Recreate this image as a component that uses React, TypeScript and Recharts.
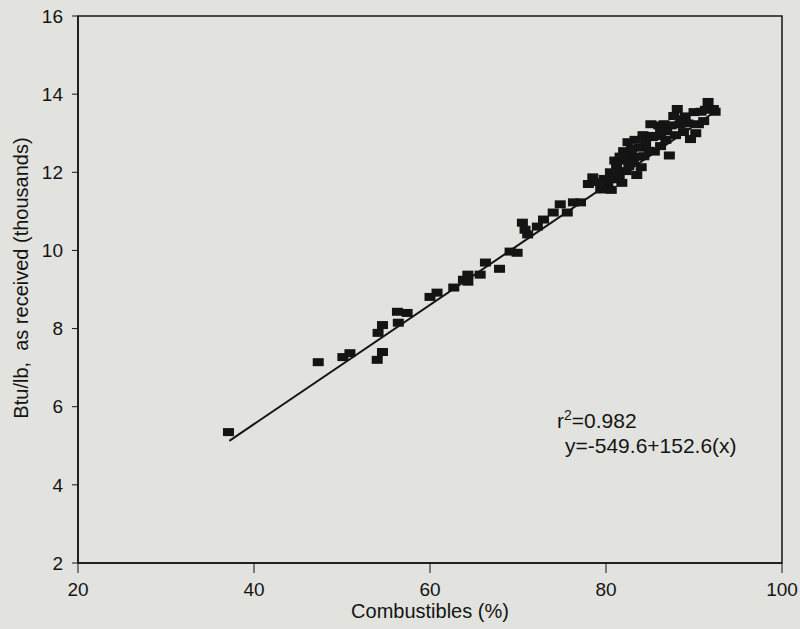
import { ScatterChart, Scatter, XAxis, YAxis, ReferenceLine, ReferenceArea } from 'recharts';

// combustibles (%) and heating value (thousand Btu/lb, as received)
const combustibles = [
  37.1, 47.3, 50.1, 50.9, 54.0, 54.6, 54.1, 54.6, 56.4, 56.3, 57.4, 60.0, 60.8, 62.7, 63.8,
  64.3, 64.3, 65.7, 66.3, 67.9, 69.1, 69.9, 70.5, 70.8, 71.1, 72.2, 72.9, 74.0, 74.8, 75.6,
  76.3, 77.1, 78.5, 79.4, 80.2, 80.9, 81.5, 82.0, 82.5, 82.3, 83.1, 83.5, 84.3, 84.0, 84.7,
  85.1, 85.5, 86.2, 86.2, 86.8, 87.2, 87.7, 88.1, 88.8, 89.6, 90.0, 90.5, 91.1, 91.6, 92.2,
  81.2, 82.8, 83.8, 85.8, 81.8, 79.8, 83.3, 86.6, 88.4, 89.0,
  78.0, 79.0, 80.5, 81.0, 81.6, 82.2, 82.9, 83.6, 84.5, 84.9, 85.3, 86.0, 86.9, 87.4, 87.9,
  88.6, 89.3, 90.2, 90.8, 91.3, 92.4, 80.6, 82.6, 84.2,
];
const btu = [
  5.35, 7.14, 7.27, 7.37, 7.2, 7.4, 7.89, 8.09, 8.15, 8.43, 8.4, 8.81, 8.92, 9.05, 9.25,
  9.2, 9.38, 9.38, 9.69, 9.53, 9.97, 9.94, 10.71, 10.53, 10.41, 10.61, 10.79, 10.97, 11.18, 10.97,
  11.23, 11.23, 11.87, 11.56, 11.68, 11.82, 11.93, 12.54, 12.77, 12.03, 12.26, 11.93, 12.41, 12.13, 12.93,
  13.23, 12.53, 12.67, 13.03, 12.83, 12.43, 13.44, 13.62, 13.03, 12.85, 13.54, 13.23, 13.31, 13.8, 13.62,
  12.13, 12.43, 12.63, 12.93, 11.73, 11.83, 12.83, 13.23, 13.23, 13.43,
  11.7, 11.75, 12.0, 12.3, 12.4, 12.3, 12.6, 12.4, 12.75, 12.55, 12.9, 13.2, 13.05, 13.2, 12.95,
  13.35, 13.25, 13.0, 13.55, 13.6, 13.55, 11.55, 12.15, 12.95,
];

const xTicks = [20, 40, 60, 80, 100];
const yTicks = [2, 4, 6, 8, 10, 12, 14, 16];

// fit reported on the chart (Btu/lb)
const intercept = -549.6;
const slope = 152.6;
const fitRange = [37.2, 92.3];

const points = combustibles.map((x, i) => ({ x, y: btu[i] }));
const fit = (x: number) => (intercept + slope * x) / 1000;

const ink = '#141414';
const font = '"Liberation Sans", Arial, Helvetica, sans-serif';

function Marker(props: { cx?: number; cy?: number }) {
  const { cx = 0, cy = 0 } = props;
  return <rect x={cx - 5.5} y={cy - 4} width={11} height={8} fill={ink} />;
}

export default function App() {
  return (
    <div
      style={{
        position: 'absolute',
        left: 0,
        top: 0,
        width: 800,
        height: 629,
        background: '#e2e3de',
        fontFamily: font,
        color: ink,
      }}
    >
      <ScatterChart
        width={800}
        height={629}
        margin={{ top: 16, right: 18, left: 0, bottom: 0 }}
        style={{ fontFamily: font }}
      >
        <XAxis
          type="number"
          dataKey="x"
          domain={[20, 100]}
          ticks={xTicks}
          height={66}
          tickSize={10}
          tickMargin={10}
          tick={{ fontSize: 19, fill: ink }}
          axisLine={{ stroke: ink, strokeWidth: 1.5 }}
          tickLine={{ stroke: ink }}
        />
        <YAxis
          type="number"
          dataKey="y"
          domain={[2, 16]}
          ticks={yTicks}
          width={78}
          tickSize={6}
          tickMargin={9}
          tick={{ fontSize: 19, fill: ink }}
          axisLine={{ stroke: ink, strokeWidth: 1.5 }}
          tickLine={{ stroke: ink }}
        />
        <ReferenceArea x1={20} x2={100} y1={2} y2={16} fill="none" stroke={ink} strokeWidth={1.5} />
        <ReferenceLine
          segment={[
            { x: fitRange[0], y: fit(fitRange[0]) },
            { x: fitRange[1], y: fit(fitRange[1]) },
          ]}
          stroke={ink}
          strokeWidth={2}
        />
        <Scatter data={points} shape={<Marker />} isAnimationActive={false} />
      </ScatterChart>

      <div
        style={{
          position: 'absolute',
          left: -139,
          top: 266,
          width: 320,
          height: 24,
          lineHeight: '24px',
          fontSize: 20,
          textAlign: 'center',
          whiteSpace: 'pre',
          transform: 'rotate(-90deg)',
        }}
      >
        {'Btu/lb,  as received (thousands)'}
      </div>
      <div
        style={{
          position: 'absolute',
          left: 330,
          top: 601,
          width: 200,
          lineHeight: '20px',
          fontSize: 20,
          textAlign: 'center',
        }}
      >
        Combustibles (%)
      </div>
      <div style={{ position: 'absolute', left: 557, top: 409, fontSize: 21, lineHeight: '24px', whiteSpace: 'pre' }}>
        r<sup style={{ fontSize: 14, lineHeight: 0 }}>2</sup>=0.982
      </div>
      <div style={{ position: 'absolute', left: 565, top: 434, fontSize: 21, lineHeight: '24px', whiteSpace: 'pre' }}>
        y=-549.6+152.6(x)
      </div>
    </div>
  );
}
